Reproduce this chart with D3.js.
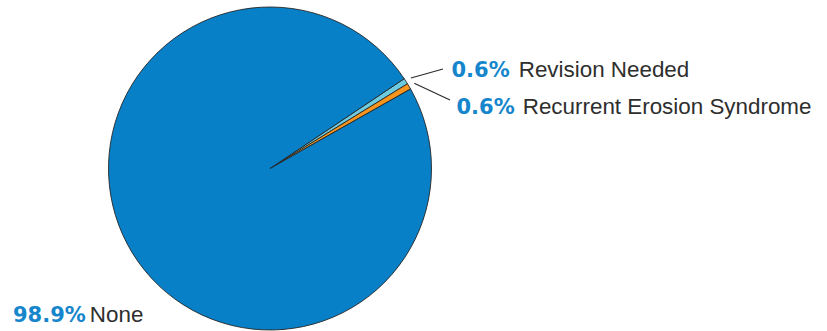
<!DOCTYPE html>
<html>
<head>
<meta charset="utf-8">
<script src="https://cdn.jsdelivr.net/npm/d3@7"></script>
<style>
  html, body { margin: 0; padding: 0; background: #fff; }
  svg { display: block; }
</style>
</head>
<body>
<svg id="chart" width="827" height="331"></svg>
<script>
// Complication outcomes, share of cases (%)
const categories = ["Revision Needed", "Recurrent Erosion Syndrome", "None"];
const values = [0.6, 0.6, 98.9];
const percentLabels = ["0.6%", "0.6%", "98.9%"];
const colors = ["#6ccbdf", "#f7941d", "#0780c8"];

const width = 827, height = 331;
const cx = 270, cy = 168.5, radius = 161.5;
const startDeg = 56.2;

const svg = d3.select("#chart");
const g = svg.append("g").attr("transform", `translate(${cx},${cy})`);

const pie = d3.pie()
  .sort(null)
  .value(d => d)
  .startAngle(startDeg * Math.PI / 180)
  .endAngle(startDeg * Math.PI / 180 + 2 * Math.PI);

const arcs = pie(values);
const arc = d3.arc().innerRadius(0).outerRadius(radius);

g.selectAll("path.slice")
  .data(arcs)
  .join("path")
  .attr("class", "slice")
  .attr("d", arc)
  .attr("fill", (d, i) => colors[i])
  .attr("stroke", "#262626")
  .attr("stroke-width", 0.9)
  .attr("stroke-linejoin", "round");

// Label placement: [percent x, baseline y, gap before the category name]
const labelPos = [
  { x: 451.5, y: 77, gap: 9 },
  { x: 456.5, y: 113.5, gap: 8 },
  { x: 13, y: 322, gap: 4 }
];

// Leader lines for the two thin slices, from just outside the rim to the label
const leaderEnds = [[443, 69], [450, 100]];
[0, 1].forEach(i => {
  const a = (arcs[i].startAngle + arcs[i].endAngle) / 2;
  const r0 = radius + 6;
  const x0 = cx + r0 * Math.sin(a), y0 = cy - r0 * Math.cos(a);
  svg.append("line")
    .attr("x1", x0).attr("y1", y0)
    .attr("x2", leaderEnds[i][0]).attr("y2", leaderEnds[i][1])
    .attr("stroke", "#2b2b2b")
    .attr("stroke-width", 1.2);
});

categories.forEach((name, i) => {
  const p = labelPos[i];
  const pct = svg.append("text")
    .attr("x", p.x).attr("y", p.y)
    .attr("font-family", "'DejaVu Sans', sans-serif")
    .attr("font-weight", "bold")
    .attr("font-size", 21)
    .attr("fill", "#1586cc")
    .text(percentLabels[i]);
  const w = pct.node().getComputedTextLength();
  svg.append("text")
    .attr("x", p.x + w + p.gap).attr("y", p.y)
    .attr("font-family", "'Liberation Sans', Arial, sans-serif")
    .attr("font-size", 22.4)
    .attr("fill", "#2e2e2e")
    .text(name);
});
</script>
</body>
</html>
